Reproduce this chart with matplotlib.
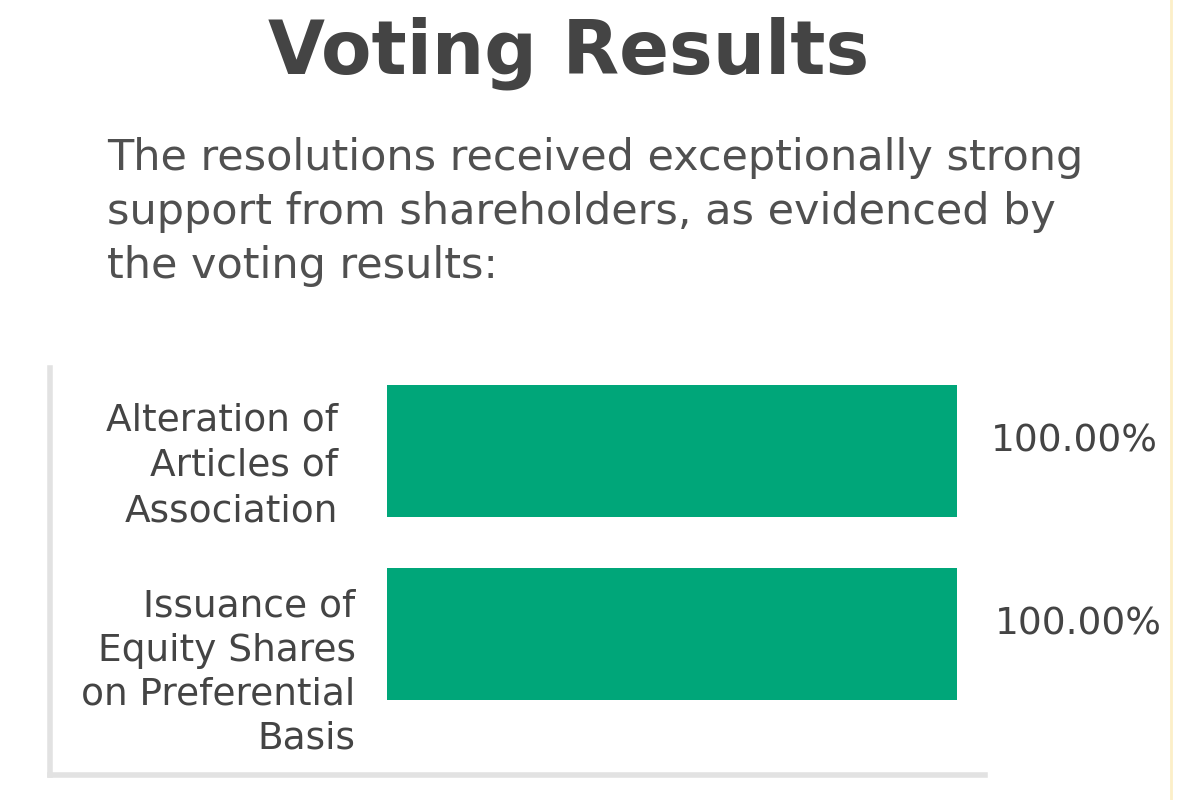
import matplotlib.pyplot as plt
from matplotlib.lines import Line2D

# data
resolutions = ['Alteration of\nArticles of\nAssociation',
               'Issuance of\nEquity Shares\non Preferential\nBasis']
votes_for = [100.0, 100.0]
vote_labels = ['100.00%', '100.00%']

title = 'Voting Results'
subtitle = ('The resolutions received exceptionally strong\n'
            'support from shareholders, as evidenced by\n'
            'the voting results:')

bar_color = '#00a679'
text_color = '#444444'
spine_color = '#e2e2e2'

fig = plt.figure(figsize=(12, 8), dpi=100)
fig.patch.set_facecolor('white')

# axes spans the gray frame; bars start inside it
ax = fig.add_axes([50 / 1200, 1 - 775 / 800, 935 / 1200, 407 / 800])
ypos = list(range(len(resolutions)))
ax.barh(ypos, votes_for, height=0.72, color=bar_color, left=0)
ax.set_xlim(-59.1, 104.9)
ax.set_ylim(1.77, -0.454)

for s in ['top', 'right']:
    ax.spines[s].set_visible(False)
for s in ['left', 'bottom']:
    ax.spines[s].set_color(spine_color)
    ax.spines[s].set_linewidth(4)
ax.set_xticks([])
ax.set_yticks([])

# category labels to the left of the bars
label_offsets = [0.08, 0.21]
label_right = [-8.5, -5.5]
label_spacing = [1.34, 1.28]
for y, name, off, xr, ls in zip(ypos, resolutions, label_offsets, label_right, label_spacing):
    ax.text(xr, y + off, name, ha='right', va='center', multialignment='right',
            fontsize=27, color=text_color, linespacing=ls)

# value labels to the right
for y, v, lab in zip(ypos, votes_for, vote_labels):
    ax.text(v + 20.5 + y * 0.7, y - 0.05, lab, ha='center', va='center',
            fontsize=27, color=text_color, clip_on=False)

fig.text(0.474, 0.933, title, ha='center', va='center', fontsize=53,
         fontweight='bold', color=text_color)
fig.text(107 / 1200, 1 - 212 / 800, subtitle, ha='left', va='center',
         fontsize=31, color='#505050', linespacing=1.36)

# faint yellow rule at the right edge
fig.add_artist(Line2D([1171 / 1200, 1171 / 1200], [0, 1], color='#fcefc8',
                      linewidth=2, transform=fig.transFigure))

fig.savefig('out.png', dpi=100, facecolor='white')
